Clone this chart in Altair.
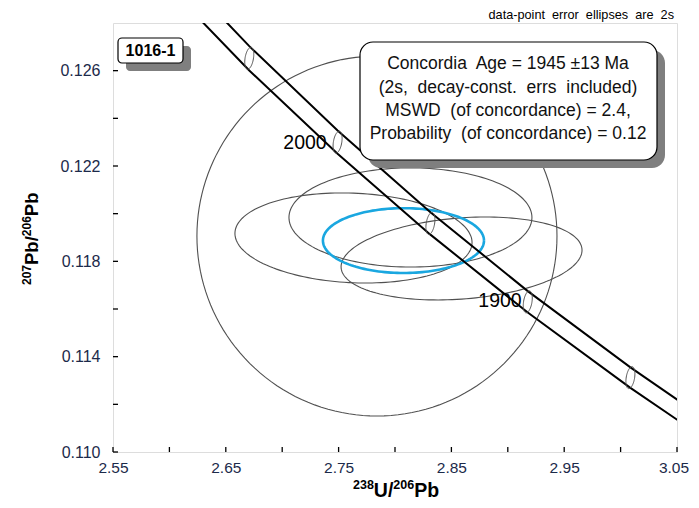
import numpy as np
import pandas as pd
import altair as alt

FONT = "Liberation Sans"
NAVY = "#1c2a4a"
NB = "\u00a0"

# ---- concordia (Tera-Wasserburg) ----
conc_age = [1800, 1850, 1900, 1950, 2000, 2050, 2100]
conc_x = [3.1043, 3.0087, 2.9177, 2.8314, 2.7491, 2.6708, 2.5969]
conc_y = [0.11002, 0.11312, 0.11630, 0.11959, 0.12300, 0.12652, 0.13016]
band_half = [0.00041, 0.00043, 0.00045, 0.00047, 0.00049, 0.00051, 0.00053]

# age marker ellipses on concordia
marker_age = [1850, 1900, 1950, 2000, 2050]
marker_sx = 0.0040
marker_sy = 0.00046
marker_rho = 0.35

# age labels
label_text = ["2000", "1900"]
label_x = [2.7202, 2.8931]
label_y = [0.12297, 0.11634]

# data-point error ellipses (2s)
ell_id = ["big", "A", "B", "C"]
ell_cx = [2.784, 2.7632, 2.8137, 2.859]
ell_cy = [0.11906, 0.11898, 0.11984, 0.11812]
ell_sx = [0.1596, 0.1051, 0.1077, 0.1068]
ell_sy = [0.00755, 0.00189, 0.00208, 0.00174]
ell_rho = [0.0, -0.1, 0.0, 0.2]

# concordia age ellipse
age_cx, age_cy, age_sx, age_sy, age_rho = 2.8075, 0.11887, 0.0714, 0.00136, 0.0

# axis ticks
x_major = [2.55, 2.65, 2.75, 2.85, 2.95, 3.05]
x_all = [2.55, 2.60, 2.65, 2.70, 2.75, 2.80, 2.85, 2.90, 2.95, 3.00, 3.05]
y_major = [0.110, 0.114, 0.118, 0.122, 0.126]
y_all = [0.110, 0.112, 0.114, 0.116, 0.118, 0.120, 0.122, 0.124, 0.126]

info_lines = [
    "Concordia" + NB + " Age = 1945 \u00b113 Ma",
    "(2s," + NB + " decay-const." + NB + " errs" + NB + " included)",
    "MSWD" + NB + " (of concordance) = 2.4,",
    "Probability" + NB + " (of concordance) = 0.12",
]
note_text = "data-point" + NB + " error" + NB + " ellipses" + NB + " are" + NB + " 2s"

# axis titles, split into (text, is_superscript)
x_title_parts = [("238", True), ("U/", False), ("206", True), ("Pb", False)]
y_title_parts = [("207", True), ("Pb/", False), ("206", True), ("Pb", False)]

W, H = 564, 429
xs = alt.Scale(domain=[2.55, 3.05], nice=False, zero=False)
ys = alt.Scale(domain=[0.110, 0.128], nice=False, zero=False)

# approximate Arial Bold advance widths (em)
ADV = {"0": .556, "1": .556, "2": .556, "3": .556, "6": .556, "7": .556, "8": .556,
       "U": .722, "/": .278, "P": .667, "b": .611}


def ellipse(name, cx, cy, sx, sy, rho, n=160):
    t = np.linspace(0, 2 * np.pi, n + 1)
    x = cx + sx * np.cos(t)
    y = cy + sy * (rho * np.cos(t) + np.sqrt(1 - rho ** 2) * np.sin(t))
    return pd.DataFrame({"id": name, "i": np.arange(n + 1), "x": x, "y": y})


def ell_layer(df, color, width):
    return alt.Chart(df).mark_line(color=color, strokeWidth=width, clip=True).encode(
        x=alt.X("x:Q", scale=xs),
        y=alt.Y("y:Q", scale=ys),
        detail="id:N",
        order="i:Q",
    )


ell_df = pd.concat([ellipse(*a) for a in zip(ell_id, ell_cx, ell_cy, ell_sx, ell_sy, ell_rho)])
age_df = ellipse("age", age_cx, age_cy, age_sx, age_sy, age_rho)

mk = []
for a in marker_age:
    k = conc_age.index(a)
    mk.append(ellipse(str(a), conc_x[k], conc_y[k], marker_sx, marker_sy, marker_rho, n=60))
mk_df = pd.concat(mk)

band_df = pd.concat([
    pd.DataFrame({"id": "upper", "x": conc_x, "y": [c + b for c, b in zip(conc_y, band_half)]}),
    pd.DataFrame({"id": "lower", "x": conc_x, "y": [c - b for c, b in zip(conc_y, band_half)]}),
])

base_axes = alt.Chart(pd.DataFrame({"x": [2.55], "y": [0.110]})).mark_point(opacity=0).encode(
    x=alt.X("x:Q", scale=xs, axis=alt.Axis(
        values=x_major, format=".2f", ticks=False, domain=False, grid=False,
        labelFontSize=15.5, labelColor=NAVY, labelPadding=8, labelFlush=False,
        labelOffset={"condition": {"test": "datum.value > 3.04", "value": -3.5}, "value": 0},
        labelFont=FONT, title=None)),
    y=alt.Y("y:Q", scale=ys, axis=alt.Axis(
        values=y_major, format=".3f", ticks=False, domain=False, grid=False,
        labelFontSize=16, labelColor=NAVY, labelPadding=13, labelFlush=False,
        labelFont=FONT, title=None)),
)

xt = alt.Chart(pd.DataFrame({"x": x_all})).mark_rule(color="black", strokeWidth=1.3).encode(
    x=alt.X("x:Q", scale=xs), y=alt.value(H), y2=alt.value(H - 5))
yt = alt.Chart(pd.DataFrame({"y": y_all})).mark_rule(color="black", strokeWidth=1.3).encode(
    y=alt.Y("y:Q", scale=ys), x=alt.value(0), x2=alt.value(5))

band = alt.Chart(band_df).mark_line(color="black", strokeWidth=2, clip=True).encode(
    x=alt.X("x:Q", scale=xs), y=alt.Y("y:Q", scale=ys), detail="id:N")

labels = alt.Chart(pd.DataFrame({"t": label_text, "x": label_x, "y": label_y})).mark_text(
    font=FONT, fontSize=19.5, color="black", align="center", baseline="middle").encode(
    x=alt.X("x:Q", scale=xs), y=alt.Y("y:Q", scale=ys), text="t:N")

one = pd.DataFrame({"a": [0]})


def rect(x1, x2, y1, y2, fill, stroke=None, r=0):
    kw = dict(fill=fill, cornerRadius=r)
    if stroke:
        kw.update(stroke=stroke, strokeWidth=1.2)
    return alt.Chart(one).mark_rect(**kw).encode(
        x=alt.value(x1), x2=alt.value(x2), y=alt.value(y1), y2=alt.value(y2))


box_shadow = rect(255, 552, 27, 145, "#7f7f7f", r=13)
box = rect(247, 544, 19, 137, "white", "black", r=13)
info = alt.Chart(pd.DataFrame({"t": info_lines, "yy": [41, 64.5, 88, 111]})).mark_text(
    font=FONT, fontSize=17.5, color="#111111", align="center", baseline="middle").encode(
    x=alt.value(395), y=alt.Y("yy:Q", scale=None), text="t:N")

tag_shadow = rect(13, 78, 23, 48, "#7f7f7f", r=4)
tag = rect(5, 70, 15, 40, "white", "black", r=4)
tag_text = alt.Chart(one).mark_text(
    font=FONT, fontSize=16, fontWeight="bold", color="black", align="center", baseline="middle",
    text="1016-1").encode(x=alt.value(37.5), y=alt.value(28))

note = alt.Chart(one).mark_text(
    font=FONT, fontSize=12.7, color="black", align="right", baseline="middle",
    text=note_text).encode(x=alt.value(561), y=alt.value(-8))


def title_layers(parts, big, small, start, base, vertical):
    out = []
    pos = start
    for txt, sup in parts:
        size = small if sup else big
        b = base - (0.4 * big if sup else 0)
        kw = dict(font=FONT, fontSize=size, fontWeight="bold", color="black",
                  align="left", baseline="alphabetic", text=txt)
        if vertical:
            kw["angle"] = 270
            out.append(alt.Chart(one).mark_text(**kw).encode(x=alt.value(b), y=alt.value(pos)))
            pos -= sum(ADV[c] for c in txt) * size
        else:
            out.append(alt.Chart(one).mark_text(**kw).encode(x=alt.value(pos), y=alt.value(b)))
            pos += sum(ADV[c] for c in txt) * size
    return out


x_title = title_layers(x_title_parts, 19.5, 12.5, 240, 474, False)
y_title = title_layers(y_title_parts, 18.5, 12, 262, -75, True)

chart = alt.layer(
    base_axes,
    ell_layer(ell_df, "#505050", 1.1),
    ell_layer(age_df, "#1aa7e0", 2.6),
    band,
    ell_layer(mk_df, "#555555", 1.0),
    labels,
    xt, yt,
    box_shadow, box, info,
    tag_shadow, tag, tag_text,
    note,
    *x_title, *y_title,
).properties(
    width=W, height=H,
    autosize=alt.AutoSizeParams(type="none"),
    padding={"left": 105, "top": 15, "right": 14, "bottom": 50},
).configure_view(
    stroke="black", strokeWidth=2
).configure(font=FONT)

chart.save("out.html", embed_options={"renderer": "svg", "actions": False})
